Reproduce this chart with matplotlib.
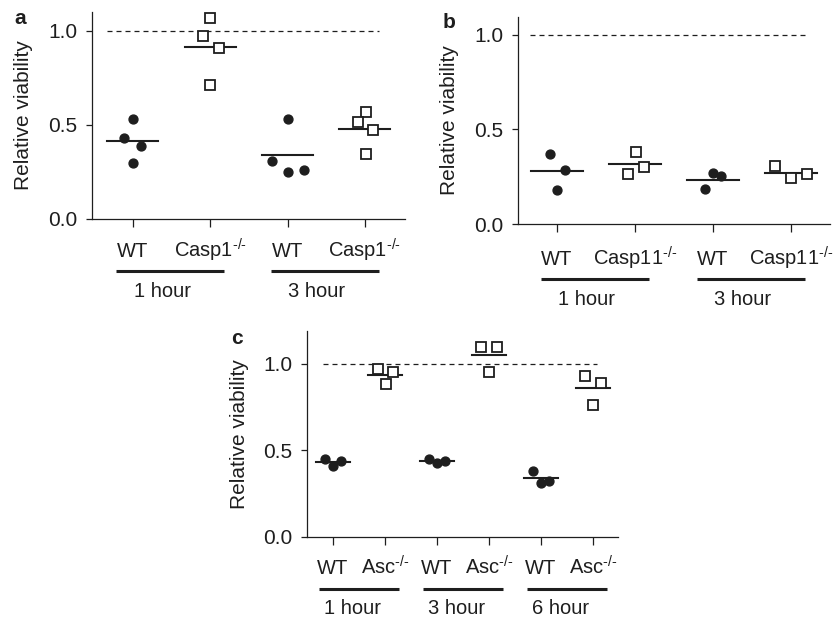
import numpy as np
import matplotlib.pyplot as plt
from matplotlib import transforms

plt.rcParams['font.family'] = ['Liberation Sans', 'DejaVu Sans']
plt.rcParams['mathtext.fontset'] = 'custom'
plt.rcParams['mathtext.rm'] = 'Liberation Sans'
plt.rcParams['mathtext.it'] = 'Liberation Sans:italic'

INK = '#1e1e1e'
FS = 14.5
KO = "$^{\\text{-/-}}$"

# ---- data ----
a_labels = ["WT", "Casp1" + KO, "WT", "Casp1" + KO]
a_hours = ["1 hour", "3 hour"]
a_values = [[0.53, 0.43, 0.39, 0.30],
            [1.07, 0.97, 0.91, 0.71],
            [0.53, 0.31, 0.25, 0.26],
            [0.57, 0.515, 0.475, 0.345]]
a_dx = [[0, -0.11, 0.10, 0],
        [0, -0.10, 0.11, 0],
        [0, -0.20, 0, 0.21],
        [0.01, -0.09, 0.11, 0.01]]

b_labels = ["WT", "Casp11" + KO, "WT", "Casp11" + KO]
b_hours = ["1 hour", "3 hour"]
b_values = [[0.367, 0.286, 0.179],
            [0.378, 0.302, 0.265],
            [0.269, 0.251, 0.183],
            [0.308, 0.241, 0.264]]
b_dx = [[-0.094, 0.107, 0],
        [0.01, 0.11, -0.09],
        [0, 0.107, -0.10],
        [-0.20, 0, 0.206]]

c_labels = ["WT", "Asc" + KO, "WT", "Asc" + KO, "WT", "Asc" + KO]
c_hours = ["1 hour", "3 hour", "6 hour"]
c_values = [[0.448, 0.412, 0.437],
            [0.967, 0.952, 0.881],
            [0.452, 0.425, 0.441],
            [1.096, 1.096, 0.952],
            [0.379, 0.314, 0.324],
            [0.931, 0.889, 0.759]]
c_dx = [[-0.15, 0, 0.16],
        [-0.14, 0.16, 0.01],
        [-0.15, 0, 0.15],
        [-0.15, 0.15, 0],
        [-0.15, 0, 0.15],
        [-0.15, 0.15, 0]]


def draw_panel(ax, letter, labels, hours, values, dx, xlim, ytop, dash_span,
               bar_span, label_y, letter_xy):
    ax.set_xlim(*xlim)
    ax.set_ylim(0, ytop)
    for s in ['top', 'right']:
        ax.spines[s].set_visible(False)
    for s in ['left', 'bottom']:
        ax.spines[s].set_color(INK)
        ax.spines[s].set_linewidth(0.9)

    ax.plot(dash_span, [1.0, 1.0], color=INK, lw=0.9, dashes=(4, 3.2))

    for i, (vals, offs) in enumerate(zip(values, dx)):
        xs = i + np.array(offs)
        if i % 2 == 0:
            ax.plot(xs, vals, 'o', ms=6.4, color=INK, mec=INK, ls='none',
                    clip_on=False, zorder=3)
        else:
            ax.plot(xs, vals, 's', ms=6.8, mfc='white', mec=INK, mew=1.3,
                    ls='none', clip_on=False, zorder=3)
        m = np.mean(vals)
        ax.plot([i - 0.33, i + 0.33], [m, m], color=INK, lw=1.5, zorder=2)

    ax.set_xticks(range(len(labels)))
    ax.set_xticklabels([])
    ax.set_yticks([0, 0.5, 1.0])
    ax.set_yticklabels(["0.0", "0.5", "1.0"])
    ax.tick_params(axis='x', length=5.5, width=0.9, color=INK)
    ax.tick_params(axis='y', length=4.5, width=0.9, color=INK, pad=6,
                   labelsize=15, labelcolor=INK)

    tr = transforms.blended_transform_factory(ax.transData, ax.transAxes)
    for i, lab in enumerate(labels):
        ax.text(i, label_y, lab, transform=tr, ha='center', va='baseline',
                fontsize=FS, color=INK)
    for g, h in enumerate(hours):
        x0 = 2 * g
        ax.plot([x0 + bar_span[0], x0 + bar_span[1]], [label_y - 0.068] * 2,
                transform=tr, color=INK, lw=2.2, clip_on=False,
                solid_capstyle='butt')
        ax.text(x0 + 0.38, label_y - 0.19, h, transform=tr, ha='center',
                va='baseline', fontsize=FS, color=INK)

    ax.set_ylabel("Relative viability", fontsize=15, color=INK)
    ax.yaxis.set_label_coords(-0.188, 0.5)
    ax.figure.text(letter_xy[0] / 836, 1 - letter_xy[1] / 619, letter,
                   fontsize=15, fontweight='bold', ha='center', va='baseline',
                   color=INK)


fig = plt.figure(figsize=(8.36, 6.19), dpi=100)
ax_a = fig.add_axes([92 / 836, 1 - 219 / 619, 313 / 836, 207 / 619])
ax_b = fig.add_axes([518 / 836, 1 - 224 / 619, 312 / 836, 207 / 619])
ax_c = fig.add_axes([307 / 836, 1 - 537 / 619, 311 / 836, 206 / 619])

draw_panel(ax_a, "a", a_labels, a_hours, a_values, a_dx, (-0.53, 3.52), 1.10,
           [-0.34, 3.19], (-0.22, 1.18), -0.185, (20, 24))
draw_panel(ax_b, "b", b_labels, b_hours, b_values, b_dx, (-0.5, 3.5), 1.093,
           [-0.34, 3.18], (-0.21, 1.18), -0.2, (449, 28))
draw_panel(ax_c, "c", c_labels, c_hours, c_values, c_dx, (-0.5, 5.48), 1.188,
           [-0.2, 5.08], (-0.27, 1.27), -0.182, (237, 344))

fig.savefig("out.png", dpi=100)
